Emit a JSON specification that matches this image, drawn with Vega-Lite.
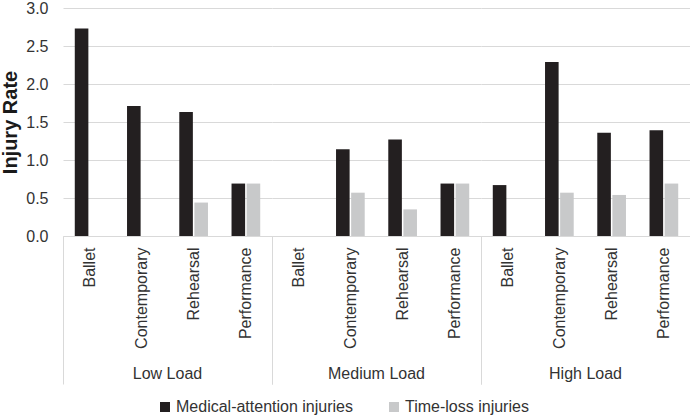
{
  "$schema": "https://vega.github.io/schema/vega-lite/v6.json",
  "padding": {"left": 0, "top": 0, "right": 0, "bottom": 0},
  "data": {
    "values": [
      {"load": "Low Load", "activity": "Ballet", "type": "Medical-attention injuries", "value": 2.73},
      {"load": "Low Load", "activity": "Ballet", "type": "Time-loss injuries", "value": 0},
      {"load": "Low Load", "activity": "Contemporary", "type": "Medical-attention injuries", "value": 1.71},
      {"load": "Low Load", "activity": "Contemporary", "type": "Time-loss injuries", "value": 0},
      {"load": "Low Load", "activity": "Rehearsal", "type": "Medical-attention injuries", "value": 1.63},
      {"load": "Low Load", "activity": "Rehearsal", "type": "Time-loss injuries", "value": 0.44},
      {"load": "Low Load", "activity": "Performance", "type": "Medical-attention injuries", "value": 0.69},
      {"load": "Low Load", "activity": "Performance", "type": "Time-loss injuries", "value": 0.69},
      {"load": "Medium Load", "activity": "Ballet", "type": "Medical-attention injuries", "value": 0},
      {"load": "Medium Load", "activity": "Ballet", "type": "Time-loss injuries", "value": 0},
      {"load": "Medium Load", "activity": "Contemporary", "type": "Medical-attention injuries", "value": 1.14},
      {"load": "Medium Load", "activity": "Contemporary", "type": "Time-loss injuries", "value": 0.57},
      {"load": "Medium Load", "activity": "Rehearsal", "type": "Medical-attention injuries", "value": 1.27},
      {"load": "Medium Load", "activity": "Rehearsal", "type": "Time-loss injuries", "value": 0.35},
      {"load": "Medium Load", "activity": "Performance", "type": "Medical-attention injuries", "value": 0.69},
      {"load": "Medium Load", "activity": "Performance", "type": "Time-loss injuries", "value": 0.69},
      {"load": "High Load", "activity": "Ballet", "type": "Medical-attention injuries", "value": 0.67},
      {"load": "High Load", "activity": "Ballet", "type": "Time-loss injuries", "value": 0},
      {"load": "High Load", "activity": "Contemporary", "type": "Medical-attention injuries", "value": 2.29},
      {"load": "High Load", "activity": "Contemporary", "type": "Time-loss injuries", "value": 0.57},
      {"load": "High Load", "activity": "Rehearsal", "type": "Medical-attention injuries", "value": 1.36},
      {"load": "High Load", "activity": "Rehearsal", "type": "Time-loss injuries", "value": 0.54},
      {"load": "High Load", "activity": "Performance", "type": "Medical-attention injuries", "value": 1.39},
      {"load": "High Load", "activity": "Performance", "type": "Time-loss injuries", "value": 0.69}
    ]
  },
  "facet": {
    "column": {
      "field": "load",
      "type": "nominal",
      "sort": ["Low Load", "Medium Load", "High Load"],
      "title": null,
      "header": {
        "labelOrient": "bottom",
        "labelFont": "Liberation Sans",
        "labelFontSize": 16,
        "labelColor": "#333333",
        "labelPadding": -19,
        "labelBaseline": "top"
      }
    }
  },
  "spacing": {"column": 0},
  "spec": {
    "width": 209,
    "height": 228,
    "mark": {"type": "bar"},
    "encoding": {
      "x": {
        "field": "activity",
        "type": "nominal",
        "sort": ["Ballet", "Contemporary", "Rehearsal", "Performance"],
        "scale": {"paddingInner": 0, "paddingOuter": 0},
        "axis": {
          "title": null,
          "labelAngle": -90,
          "labelFont": "Liberation Sans",
          "labelFontSize": 16,
          "labelColor": "#333333",
          "labelOverlap": false,
          "labelPadding": -137,
          "domainColor": "#d9d9d9",
          "tickBand": "extent",
          "tickSize": 148,
          "tickColor": {
            "condition": {"test": "indexof(['Ballet','Contemporary','Rehearsal'], datum.value) >= 0", "value": "rgba(0,0,0,0)"},
            "value": "#d9d9d9"
          }
        }
      },
      "xOffset": {
        "field": "type",
        "type": "nominal",
        "sort": ["Medical-attention injuries", "Time-loss injuries"],
        "scale": {"paddingInner": 0.1, "paddingOuter": 0.78}
      },
      "y": {
        "field": "value",
        "type": "quantitative",
        "scale": {"domain": [0, 3], "nice": false},
        "axis": {
          "title": "Injury Rate",
          "titleFont": "Liberation Sans",
          "titleFontSize": 20,
          "titleFontWeight": "bold",
          "titleColor": "#1a1a1a",
          "titlePadding": 5,
          "values": [0, 0.5, 1, 1.5, 2, 2.5, 3],
          "format": ".1f",
          "labelFont": "Liberation Sans",
          "labelFontSize": 16,
          "labelColor": "#333333",
          "labelPadding": 15,
          "domain": false,
          "ticks": false,
          "gridColor": "#d9d9d9"
        }
      },
      "color": {
        "field": "type",
        "type": "nominal",
        "sort": ["Medical-attention injuries", "Time-loss injuries"],
        "scale": {"range": ["#231f20", "#c8c9ca"]},
        "legend": {
          "title": null,
          "orient": "none",
          "legendX": 94,
          "legendY": 391,
          "direction": "horizontal",
          "symbolType": "square",
          "symbolSize": 100,
          "symbolStrokeWidth": 0,
          "labelFont": "Liberation Sans",
          "labelFontSize": 16,
          "labelColor": "#333333",
          "labelLimit": 0,
          "columnPadding": 33,
          "labelOffset": 3
        }
      }
    }
  },
  "config": {
    "view": {"stroke": null}
  }
}
